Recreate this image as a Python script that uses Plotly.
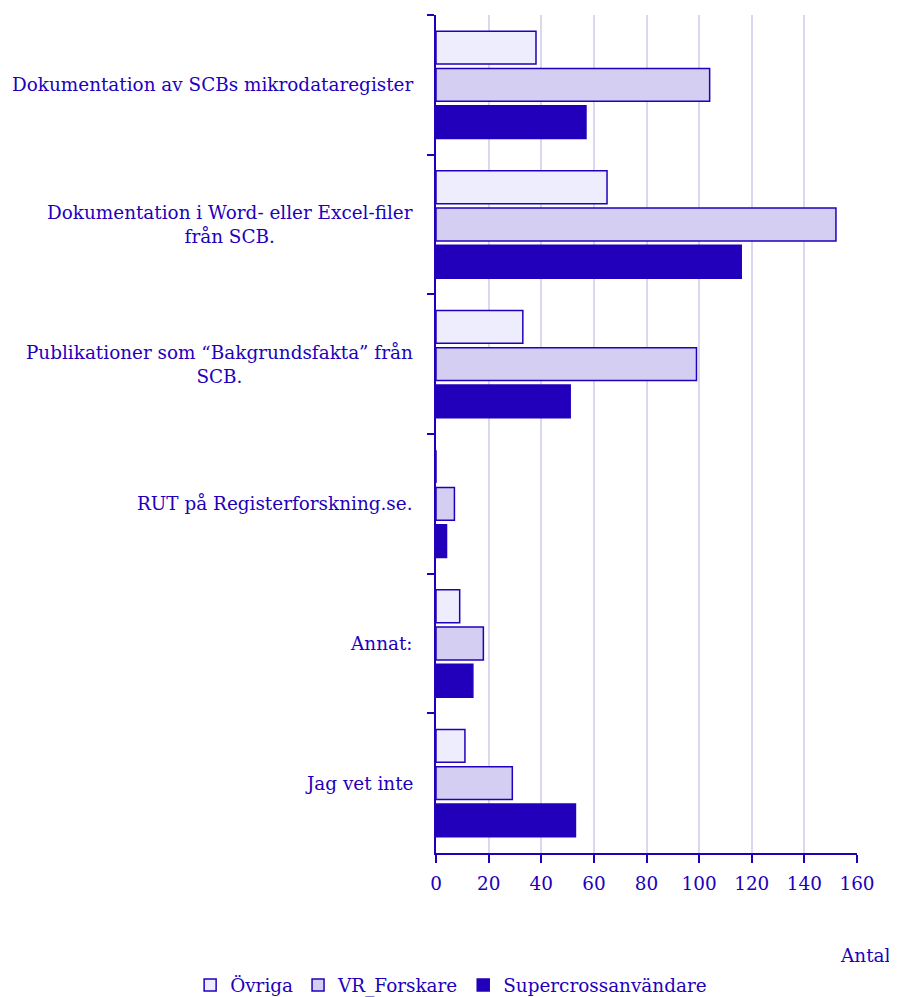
import plotly.graph_objects as go

categories = [
    "Dokumentation av SCBs mikrodataregister",
    "Dokumentation i Word- eller Excel-filer<br>från SCB.",
    "Publikationer som “Bakgrundsfakta” från<br>SCB.",
    "RUT på Registerforskning.se.",
    "Annat:",
    "Jag vet inte",
]
ovriga = [38, 65, 33, 0, 9, 11]
vr_forskare = [104, 152, 99, 7, 18, 29]
supercross = [57, 116, 51, 4, 14, 53]
x_ticks = [0, 20, 40, 60, 80, 100, 120, 140, 160]

BLUE = "#2200bb"
FONT = "DejaVu Serif"
FS = 18.4

fig = go.Figure()
series = [
    ("Övriga", ovriga, "#ededfd"),
    ("VR_Forskare", vr_forskare, "#d3cef2"),
    ("Supercrossanvändare", supercross, "#2200bb"),
]
for name, vals, col in series:
    fig.add_trace(go.Bar(
        y=categories, x=vals, name=name, orientation="h",
        marker=dict(color=col, line=dict(color=BLUE, width=1.5)),
    ))

for c in categories:
    fig.add_annotation(
        x=0, xref="paper", y=c, yref="y", text=c, showarrow=False,
        xanchor="right", yanchor="middle", align="center", xshift=-21,
        font=dict(family=FONT, size=FS, color=BLUE),
    )

fig.add_annotation(
    x=1.083, xref="paper", y=-0.122, yref="paper", text="Antal",
    showarrow=False, xanchor="right", yanchor="middle",
    font=dict(family=FONT, size=FS, color=BLUE),
)

fig.update_layout(
    width=889, height=989,
    margin=dict(l=428, r=40, t=7, b=144, autoexpand=False),
    paper_bgcolor="white", plot_bgcolor="white",
    barmode="group", bargap=0.2, bargroupgap=0.12,
    font=dict(family=FONT, size=FS, color=BLUE),
    showlegend=True,
    legend=dict(orientation="h", x=-0.584, xanchor="left",
                y=-0.1575, yanchor="middle",
                font=dict(family=FONT, size=FS, color=BLUE),
                traceorder="normal", itemwidth=30),
    xaxis=dict(range=[0, 160], tickvals=x_ticks, showgrid=True,
               gridcolor="#d8d8f0", gridwidth=2, zeroline=False,
               showline=True, linecolor=BLUE, linewidth=2,
               ticks="outside", ticklen=8, tickcolor=BLUE, tickwidth=2,
               ticklabelstandoff=5,
               tickfont=dict(family=FONT, size=FS, color=BLUE)),
    yaxis=dict(autorange="reversed", showticklabels=False,
               showline=True, linecolor=BLUE, linewidth=2,
               ticks="outside", ticklen=7, tickcolor=BLUE, tickwidth=2,
               tickson="boundaries", showgrid=False),
)

fig.write_html("out.html")
